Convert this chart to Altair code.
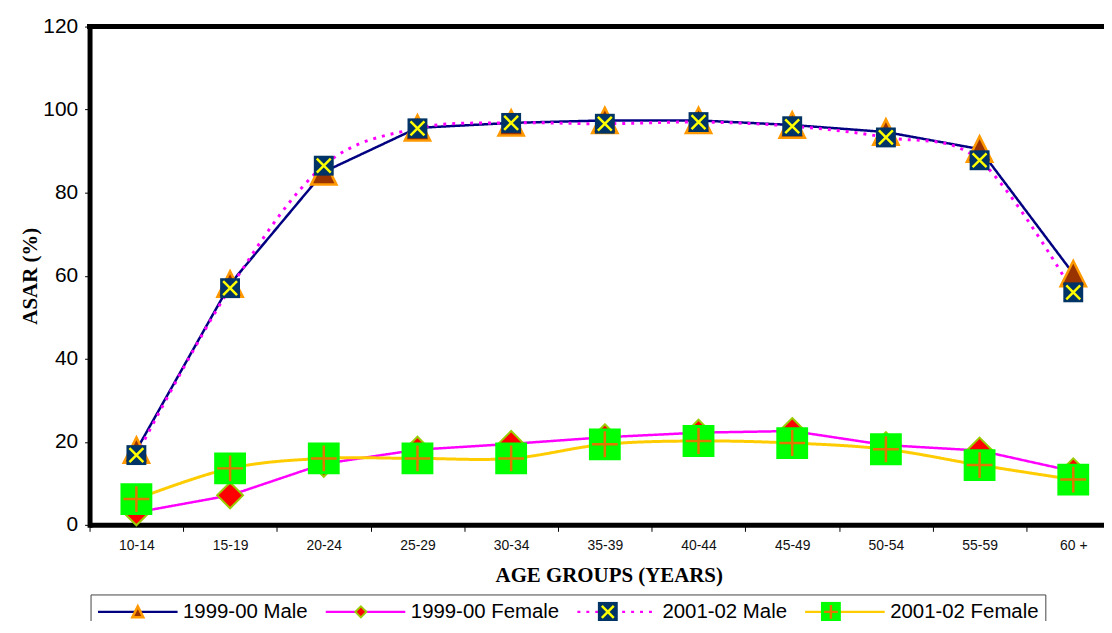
import json
import math
import altair as alt
import pandas as pd

ages = ["10-14", "15-19", "20-24", "25-29", "30-34", "35-39", "40-44", "45-49", "50-54", "55-59", "60 +"]
series_names = ["1999-00 Male", "1999-00 Female", "2001-02 Male", "2001-02 Female"]
male_1999 = [18.0, 58.0, 85.0, 95.6, 96.8, 97.4, 97.4, 96.3, 94.6, 90.5, 60.5]
female_1999 = [3.0, 7.1, 14.7, 18.1, 19.5, 21.1, 22.2, 22.6, 19.2, 17.9, 12.9]
male_2001 = [16.8, 57.0, 86.5, 95.5, 96.8, 96.6, 97.0, 96.0, 93.3, 87.8, 56.0]
female_2001 = [6.2, 13.6, 16.0, 16.0, 16.0, 19.4, 20.2, 19.7, 18.2, 14.4, 10.9]
y_ticks = [0, 20, 40, 60, 80, 100, 120]

W, H = 1020, 501
STEP = 94.2
XMAX = W / STEP - 0.5

rows = []
for name, vals in zip(series_names, [male_1999, female_1999, male_2001, female_2001]):
    for i, (age, v) in enumerate(zip(ages, vals)):
        rows.append({"series": name, "age": age, "idx": i, "value": v})
df = pd.DataFrame(rows)

label_expr = json.dumps(ages) + "[datum.value]"

x_enc = alt.X(
    "idx:Q",
    scale=alt.Scale(domain=[-0.5, XMAX], nice=False, zero=False),
    axis=alt.Axis(
        values=list(range(len(ages))), labelExpr=label_expr, title="AGE GROUPS (YEARS)",
        tickOffset=-STEP / 2, labelOffset=STEP / 2, grid=False,
        domainWidth=5, domainColor="black", tickSize=6.5, tickColor="black", tickWidth=1,
        labelPadding=7.5, labelFontSize=14, labelFont="Liberation Sans", labelColor="#111111",
        labelOverlap=False, labelFlush=False,
        titleFont="Liberation Serif", titleFontSize=21, titleFontWeight="bold", titleColor="black",
        titleX=522, titleY=57, titleAlign="center", titleBaseline="alphabetic",
    ),
)
y_enc = alt.Y(
    "value:Q",
    scale=alt.Scale(domain=[0, 120], nice=False, zero=True),
    axis=alt.Axis(
        values=y_ticks, title="ASAR (%)", grid=False,
        domainWidth=5, domainColor="black", domainCap="square", tickSize=5, tickColor="black", tickWidth=1,
        labelPadding=7, labelFontSize=21, labelFont="Liberation Sans", labelColor="black",
        titleFont="Liberation Serif", titleFontSize=21, titleFontWeight="bold", titleColor="black",
        titleAngle=270, titleX=-59, titleY=250.5, titleAlign="center", titleBaseline="middle",
    ),
)

# ---- legend geometry (pixels, relative to plot origin) ----
LEG_X, LEG_Y, LEG_PAD = 1, 571, 6
LAB_FS = 20.5
# approximate label widths (Liberation Sans 20.5px) to place the marker symbols on the line samples
LAB_W = [125.3, 149.3, 125.3, 149.3]
ENTRY_SYM = 87  # label start relative to entry origin
COL_PAD = 12
centers = []
o = LEG_X + LEG_PAD
for w in LAB_W:
    centers.append(o + 41.5)
    o = o + ENTRY_SYM + w + COL_PAD
CY = LEG_Y + LEG_PAD + 11.5

LINE_SYM = "M-4,0L4,0"
TRI = "M0,-1L1,1L-1,1Z"
DIA = "M0,-1L1,0L0,1L-1,0Z"
SQ = "M-1,-1L1,-1L1,1L-1,1Z"
XSYM = "M-1,-1L1,1M1,-1L-1,1"
PLUS = "M-1,0L1,0M0,-1L0,1"

line_legend = alt.Legend(
    title=None, orient="none", legendX=LEG_X, legendY=LEG_Y, direction="horizontal",
    symbolType=LINE_SYM, symbolSize=400, symbolStrokeWidth=2.5, symbolOffset=30,
    labelFont="Liberation Sans", labelFontSize=LAB_FS, labelOffset=34, labelLimit=400,
    labelColor="black", columnPadding=COL_PAD, padding=LEG_PAD, strokeColor="#444444",
)

line_stroke = alt.Stroke(
    "series:N",
    scale=alt.Scale(domain=series_names, range=["#000080", "#ff00ff", "#ff00ff", "#ffcc00"]),
    legend=line_legend,
)
line_dash = alt.StrokeDash(
    "series:N",
    scale=alt.Scale(domain=series_names, range=[[1, 0], [1, 0], [3, 6], [1, 0]]),
    legend=line_legend,
)

base = alt.Chart(df)
lines_straight = base.transform_filter(
    alt.FieldOneOfPredicate(field="series", oneOf=series_names[:2])
).mark_line(strokeWidth=2.5).encode(x=x_enc, y=y_enc, stroke=line_stroke, strokeDash=line_dash, order="idx:Q")
lines_smooth = base.transform_filter(
    alt.FieldOneOfPredicate(field="series", oneOf=series_names[2:])
).mark_line(strokeWidth=3, interpolate="cardinal").encode(
    x=x_enc, y=y_enc, stroke=line_stroke, strokeDash=line_dash, order="idx:Q"
)
lines = alt.layer(lines_straight, lines_smooth)


def marker(k, path, plot_size, legend_size, fill=None, stroke=None, sw=2.5):
    size_px = max(math.ceil(math.sqrt(legend_size) + sw), 1)
    c = size_px / 2
    leg = alt.Legend(
        title=None, orient="none", legendX=centers[k] - c, legendY=CY - c, direction="horizontal",
        symbolType=path, symbolSize=legend_size, symbolStrokeWidth=sw, symbolOffset=0,
        labelExpr="''", labelFontSize=1, labelOffset=0, padding=0,
    )
    enc = dict(x=x_enc, y=y_enc)
    dom = [series_names[k]]
    if fill is not None:
        enc["fill"] = alt.Fill("series:N", scale=alt.Scale(domain=dom, range=[fill]), legend=leg)
    if stroke is not None:
        enc["stroke"] = alt.Stroke("series:N", scale=alt.Scale(domain=dom, range=[stroke]), legend=leg)
    return base.transform_filter(alt.datum.series == series_names[k]).mark_point(
        shape=path, size=plot_size, filled=fill is not None, opacity=1, strokeWidth=sw
    ).encode(**enc)


tri = marker(0, TRI, 650, 121, fill="#993300", stroke="#ff9900")
dia = marker(1, DIA, 676, 121, fill="#ff0000", stroke="#99cc00", sw=2)
navy = marker(2, SQ, 400, 400, fill="#003366", sw=0)
xm = marker(2, XSYM, 196, 144, stroke="#ffff00")
green = marker(3, SQ, 1024, 400, fill="#00ff00", sw=0)
plus = marker(3, PLUS, 676, 196, stroke="#e07800")

top_rule = alt.Chart(df).mark_rule(color="black", strokeWidth=5, strokeCap="square").encode(
    x=alt.value(0), x2=alt.value(W), y=alt.value(0)
)

chart = alt.layer(
    lines, tri, dia, navy, xm, green, plus, top_rule
).resolve_scale(
    stroke="independent", fill="independent", strokeDash="independent"
).properties(
    width=W, height=H,
    autosize=alt.AutoSizeParams(type="none"),
    padding={"left": 82, "top": 17, "right": 0, "bottom": 95},
).configure_view(stroke=None)

chart.save("out.html", embed_options={"renderer": "svg", "actions": False})
